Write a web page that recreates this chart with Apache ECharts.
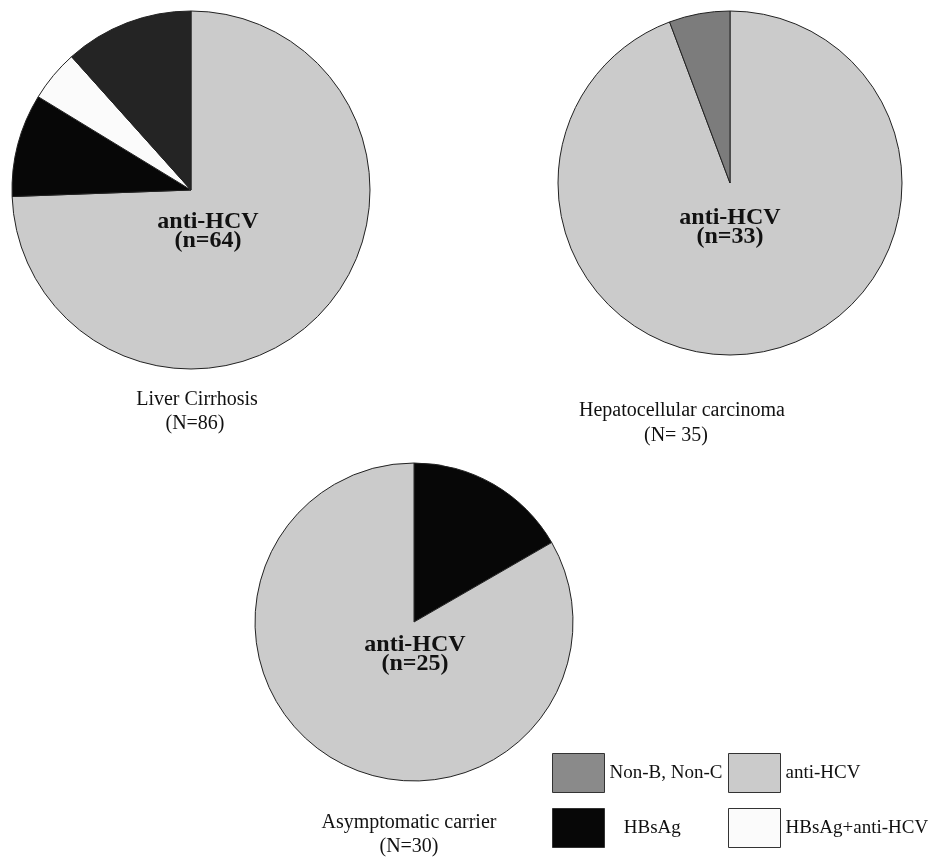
<!DOCTYPE html>
<html>
<head>
<meta charset="utf-8">
<script src="https://cdn.jsdelivr.net/npm/echarts@6/dist/echarts.min.js"></script>
<style>
html,body{margin:0;padding:0;background:#fff;}
#chart{width:931px;height:857px;}
</style>
</head>
<body>
<div id="chart"></div>
<script>
// ---- data ----
const categories = ['Non-B, Non-C', 'anti-HCV', 'HBsAg', 'HBsAg+anti-HCV'];

const lcNames  = ['anti-HCV', 'HBsAg', 'HBsAg+anti-HCV', 'Non-B, Non-C'];
const lcValues = [64, 8, 4, 10];

const hccNames  = ['anti-HCV', 'Non-B, Non-C'];
const hccValues = [33, 2];

const acNames  = ['HBsAg', 'anti-HCV'];
const acValues = [5, 25];

const groupTitles = ['Liver Cirrhosis', 'Hepatocellular carcinoma', 'Asymptomatic carrier'];
const groupCounts = ['(N=86)', '(N= 35)', '(N=30)'];

// ---- styles ----
const FONT = '"Liberation Serif", "Times New Roman", serif';
const catColor = {
  'Non-B, Non-C': '#8a8a8a',
  'anti-HCV': '#cbcbcb',
  'HBsAg': '#070707',
  'HBsAg+anti-HCV': '#fbfbfb'
};

function buildData(names, values, overrides) {
  return names.map((n, i) => {
    const item = {
      name: n,
      value: values[i],
      itemStyle: { color: (overrides && overrides[n]) || catColor[n] }
    };
    if (n === 'anti-HCV') {
      item.label = {
        show: true,
        position: 'center',
        formatter: '{b}\n(n={c})',
        fontFamily: FONT,
        fontWeight: 'bold',
        fontSize: 24,
        lineHeight: 19,
        color: '#111'
      };
    }
    return item;
  });
}

function pieSeries(names, values, center, radius, dx, dy, overrides) {
  return {
    type: 'pie',
    center: center,
    radius: radius,
    startAngle: 90,
    clockwise: true,
    animation: false,
    silent: true,
    label: { show: false },
    labelLine: { show: false },
    labelLayout: { dx: dx, dy: dy },
    itemStyle: { borderColor: '#222', borderWidth: 1 },
    emphasis: { disabled: true },
    data: buildData(names, values, overrides)
  };
}

function legendFor(name, left, top, formatter) {
  const c = catColor[name];
  return {
    left: left, top: top,
    orient: 'vertical',
    padding: 0,
    icon: 'rect',
    itemWidth: 52,
    itemHeight: 39,
    selectedMode: false,
    formatter: formatter || '{name}',
    textStyle: { fontFamily: FONT, fontSize: 19, color: '#111' },
    data: [{ name: name, itemStyle: { color: c, borderColor: '#333', borderWidth: 1 } }]
  };
}

function caption(text, x, y) {
  return {
    type: 'text', x: x, y: y,
    style: {
      text: text, align: 'center', verticalAlign: 'middle',
      font: '20px ' + FONT, fill: '#111'
    }
  };
}

const chart = echarts.init(document.getElementById('chart'), null, { renderer: 'canvas' });
chart.setOption({
  backgroundColor: '#ffffff',
  animation: false,
  legend: [
    legendFor(categories[0], 552, 753),
    legendFor(categories[1], 728, 753),
    legendFor(categories[2], 552, 808, '   {name}'),
    legendFor(categories[3], 728, 808)
  ],
  graphic: [
    caption(groupTitles[0], 197, 400),
    caption(groupCounts[0], 195, 424),
    caption(groupTitles[1], 682, 411),
    caption(groupCounts[1], 676, 436),
    caption(groupTitles[2], 409, 823),
    caption(groupCounts[2], 409, 847)
  ],
  series: [
    pieSeries(hccNames, hccValues, [730, 183], 172, 0, 44, { 'Non-B, Non-C': '#7c7c7c' }),
    pieSeries(lcNames, lcValues, [191, 190], 179, 17, 41, { 'Non-B, Non-C': '#242424' }),
    pieSeries(acNames, acValues, [414, 622], 159, 1, 32)
  ]
});
</script>
</body>
</html>
